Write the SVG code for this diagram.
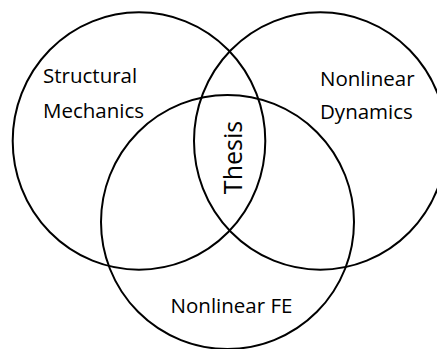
<svg xmlns="http://www.w3.org/2000/svg" width="437" height="349" viewBox="0 0 437 349">
<style>
.c{fill:none;stroke:#000;stroke-width:2}
.t{font-family:"Open Sans","Liberation Sans",sans-serif;font-size:20.5px;fill:#000}
</style>
<rect width="437" height="349" fill="#fff"/>
<g id="structural-mechanics">
<ellipse class="c" cx="139" cy="141" rx="126.3" ry="128.7"/>
<text class="t" x="43" y="83">Structural</text>
<text class="t" x="43" y="118">Mechanics</text>
</g>
<g id="nonlinear-dynamics">
<ellipse class="c" cx="320.3" cy="141" rx="126.3" ry="128.7"/>
<text class="t" x="320" y="86">Nonlinear</text>
<text class="t" x="320" y="119">Dynamics</text>
</g>
<g id="nonlinear-fe">
<ellipse class="c" cx="227.5" cy="222" rx="126.5" ry="127"/>
<text class="t" x="231.5" y="313" text-anchor="middle">Nonlinear FE</text>
</g>
<g id="thesis">
<text class="t" style="font-size:25px" x="0" y="0" text-anchor="middle" transform="translate(241.5 157.5) rotate(-90)">Thesis</text>
</g>
<g id="connectors"></g>
</svg>
